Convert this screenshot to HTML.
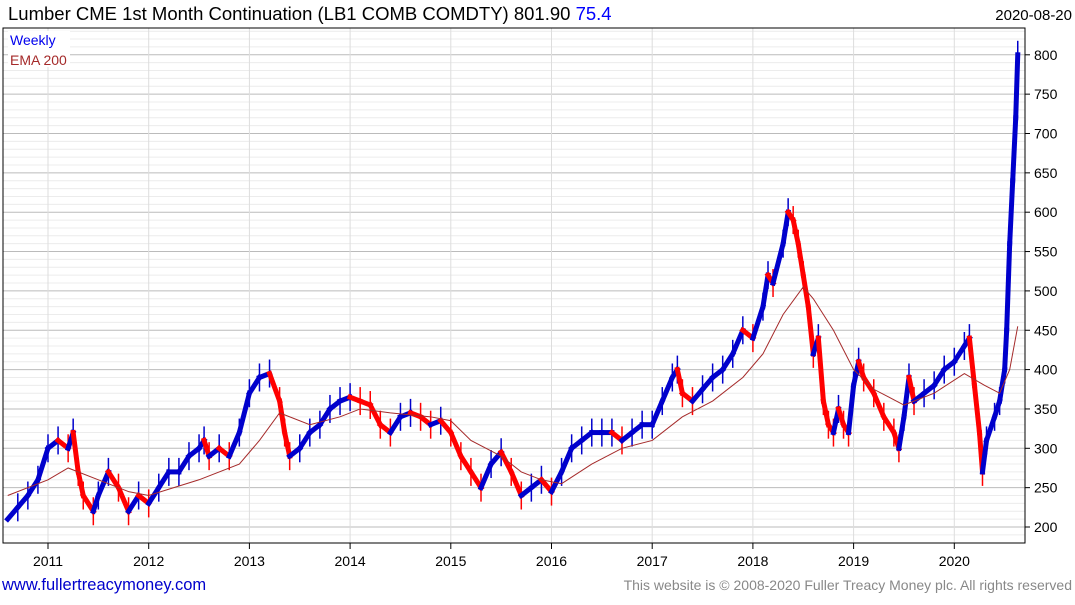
<!DOCTYPE html>
<html><head><meta charset="utf-8"><style>
body{margin:0;background:#fff;font-family:"Liberation Sans",sans-serif;}
svg text{font-family:"Liberation Sans",sans-serif;}
</style></head><body>
<svg id="c" width="1075" height="600">
<text x="8" y="20" font-size="18.5" fill="#000">Lumber CME 1st Month Continuation (LB1 COMB COMDTY) 801.90 <tspan fill="#0000ff">75.4</tspan></text>
<text x="1072" y="20" font-size="15" text-anchor="end">2020-08-20</text>
<g id="grid"></g><g id="marks"></g>
<rect x="3" y="28" width="1022" height="515" fill="none" stroke="#000"/>
<rect x="8" y="31" width="62" height="36" fill="#fff"/>
<text x="10" y="45" font-size="14" fill="#0000ee">Weekly</text>
<text x="10" y="65" font-size="14" fill="#a52a2a">EMA 200</text>
<text x="2" y="590" font-size="16.5" fill="#0000cc">www.fullertreacymoney.com</text>
<text x="1072" y="590" font-size="14" fill="#888" text-anchor="end">This website is © 2008-2020 Fuller Treacy Money plc. All rights reserved</text>
</svg>
<script>
const dates=[2010.6,2010.7,2010.8,2010.9,2011.0,2011.1,2011.2,2011.25,2011.3,2011.35,2011.45,2011.5,2011.6,2011.7,2011.8,2011.9,2012.0,2012.1,2012.2,2012.3,2012.4,2012.5,2012.55,2012.6,2012.7,2012.8,2012.9,2013.0,2013.1,2013.2,2013.3,2013.35,2013.4,2013.5,2013.6,2013.7,2013.8,2013.9,2014.0,2014.1,2014.2,2014.3,2014.4,2014.5,2014.6,2014.7,2014.8,2014.9,2015.0,2015.1,2015.2,2015.3,2015.4,2015.5,2015.6,2015.7,2015.8,2015.9,2016.0,2016.1,2016.2,2016.3,2016.4,2016.5,2016.6,2016.7,2016.8,2016.9,2017.0,2017.1,2017.2,2017.25,2017.3,2017.4,2017.5,2017.6,2017.7,2017.8,2017.9,2018.0,2018.1,2018.15,2018.2,2018.3,2018.35,2018.4,2018.45,2018.5,2018.55,2018.6,2018.65,2018.7,2018.75,2018.8,2018.85,2018.9,2018.95,2019.0,2019.05,2019.1,2019.2,2019.3,2019.4,2019.45,2019.5,2019.55,2019.6,2019.7,2019.8,2019.9,2020.0,2020.1,2020.15,2020.2,2020.25,2020.28,2020.32,2020.4,2020.45,2020.5,2020.52,2020.55,2020.58,2020.61,2020.63];
const closes=[210,225,240,260,300,310,300,320,270,240,220,240,270,250,220,240,230,250,270,270,290,300,310,290,300,290,320,370,390,395,360,320,290,300,320,330,350,360,365,360,355,330,320,340,345,340,330,335,320,290,270,250,280,295,270,240,250,260,245,270,300,310,320,320,320,310,320,330,330,360,390,400,370,360,375,390,400,420,450,440,480,520,510,560,600,590,560,520,480,420,440,360,330,320,350,330,320,380,410,390,370,340,320,300,340,390,360,370,380,400,410,430,440,380,320,270,310,340,360,400,450,560,640,720,800];
const emaDates=[2010.6,2011.0,2011.2,2011.5,2011.8,2012.0,2012.5,2012.9,2013.1,2013.3,2013.6,2013.9,2014.1,2014.4,2014.8,2015.0,2015.2,2015.5,2015.7,2015.9,2016.1,2016.4,2016.7,2017.0,2017.3,2017.6,2017.9,2018.1,2018.3,2018.5,2018.6,2018.8,2019.0,2019.2,2019.5,2019.8,2020.1,2020.3,2020.45,2020.55,2020.63];
const emaValues=[240,260,275,260,245,240,260,280,310,345,330,340,350,345,340,335,310,290,270,260,255,280,300,310,340,360,390,420,470,505,490,450,400,375,355,370,395,380,370,400,455];
const yTicks=[200,250,300,350,400,450,500,550,600,650,700,750,800];
const years=[2011,2012,2013,2014,2015,2016,2017,2018,2019,2020];
const NS='http://www.w3.org/2000/svg';
const X=t=>48+(t-2011)*100.7;
const Y=v=>527-(v-200)*0.787;
const grid=document.getElementById('grid'),marks=document.getElementById('marks'),svg=document.getElementById('c');
function el(tag,a,p){const e=document.createElementNS(NS,tag);for(const k in a)e.setAttribute(k,a[k]);p.appendChild(e);return e;}
for(let v=190;v<=830;v+=10){if(Y(v)<29||Y(v)>542)continue;const l=el('line',{x1:3,x2:1025,y1:Y(v),y2:Y(v),stroke:v%50==0?'#bbb':'#ececec','stroke-width':1},grid);

}
yTicks.forEach(v=>{const t=el('text',{x:1034,y:Y(v)+5,'font-size':14},svg);t.textContent=v;


el('line',{x1:1025,x2:1030,y1:Y(v),y2:Y(v),stroke:'#000'},svg);});
years.forEach(y=>{const l=el('line',{x1:X(y),x2:X(y),y1:28,y2:543,stroke:'#ddd'},grid);


el('line',{x1:X(y),x2:X(y),y1:543,y2:549,stroke:'#000'},svg);
const t=el('text',{x:X(y),y:566,'font-size':14,'text-anchor':'middle'},svg);t.textContent=y;

});
for(let i=1;i<closes.length;i++){const x0=X(dates[i-1]),x1=X(dates[i]);const a=closes[i-1],b=closes[i];
const up=b>=a;const col=up?'#0000cc':'#ff0000';
const s=el('line',{x1:x0,y1:Y(a),x2:x1,y2:Y(b),stroke:col,'stroke-width':5,'stroke-linecap':'square'},marks);


const w=el('line',{x1:x1,x2:x1,y1:Y(b)-14,y2:Y(b)+14,stroke:col,'stroke-width':1.5},marks);

}
const pts=emaDates.map((d,i)=>X(d)+','+Y(emaValues[i])).join(' ');
const p=el('polyline',{points:pts,fill:'none',stroke:'#a52a2a','stroke-width':1},marks);


</script>
</body></html>
